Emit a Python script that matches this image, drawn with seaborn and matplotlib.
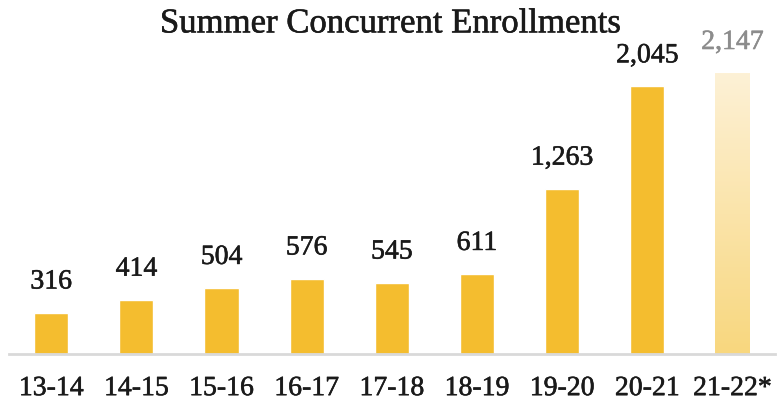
import numpy as np
import pandas as pd
import matplotlib
matplotlib.use("Agg")
import matplotlib.pyplot as plt
import matplotlib.patheffects as pe
import seaborn as sns
from matplotlib.colors import LinearSegmentedColormap

categories = ["13-14", "14-15", "15-16", "16-17", "17-18", "18-19", "19-20", "20-21", "21-22*"]
enrollments = [316, 414, 504, 576, 545, 611, 1263, 2045, 2147]
value_labels = ["316", "414", "504", "576", "545", "611", "1,263", "2,045", "2,147"]

df = pd.DataFrame({"year": categories, "n": enrollments})

sns.set_theme(style="white")
plt.rcParams["font.family"] = ["Liberation Serif", "DejaVu Serif"]

fig = plt.figure(figsize=(7.82, 4.12), dpi=100)
ax = fig.add_axes([0.011, 0.141, 0.98, 0.762])

gold = "#F4BD2F"
sns.barplot(data=df, x="year", y="n", color=gold, width=0.4, saturation=1, ax=ax)

# last bar: light gradient
last = ax.patches[-1]
last.set_facecolor("none")
x0, y0 = last.get_x(), last.get_y()
w, h = last.get_width(), last.get_height()
grad = np.linspace(0, 1, 256).reshape(-1, 1)
cmap = LinearSegmentedColormap.from_list("g", ["#F8D77E", "#FDF1D6"])
im = ax.imshow(grad, extent=[x0, x0 + w, y0, y0 + h], origin="lower", cmap=cmap,
               aspect="auto", zorder=last.get_zorder())
im.set_clip_path(last)

dark = "#1A1A1A"
sw = 0.4
for i, (v, lab) in enumerate(zip(enrollments, value_labels)):
    c = "#8C8C8C" if i == len(enrollments) - 1 else dark
    ax.annotate(lab, (i, v), xytext=(0, 13), textcoords="offset points",
                ha="center", va="bottom", fontsize=20, color=c,
                path_effects=[pe.withStroke(linewidth=sw, foreground=c)])

ax.set_xlim(-0.5, 8.5)
ax.set_ylim(0, 2400)
ax.set_xlabel("")
ax.set_ylabel("")
ax.set_yticks([])
ax.tick_params(axis="x", length=0, pad=16, labelsize=20, labelcolor=dark)
for t in ax.get_xticklabels():
    t.set_path_effects([pe.withStroke(linewidth=sw, foreground=dark)])
for s in ["top", "right", "left"]:
    ax.spines[s].set_visible(False)
ax.spines["bottom"].set_color("#D9D9D9")
ax.spines["bottom"].set_linewidth(2)

fig.text(0.5, 0.942, "Summer Concurrent Enrollments", ha="center", va="center",
         fontsize=25, color=dark,
         path_effects=[pe.withStroke(linewidth=sw, foreground=dark)])

fig.savefig("out.png", dpi=100)
